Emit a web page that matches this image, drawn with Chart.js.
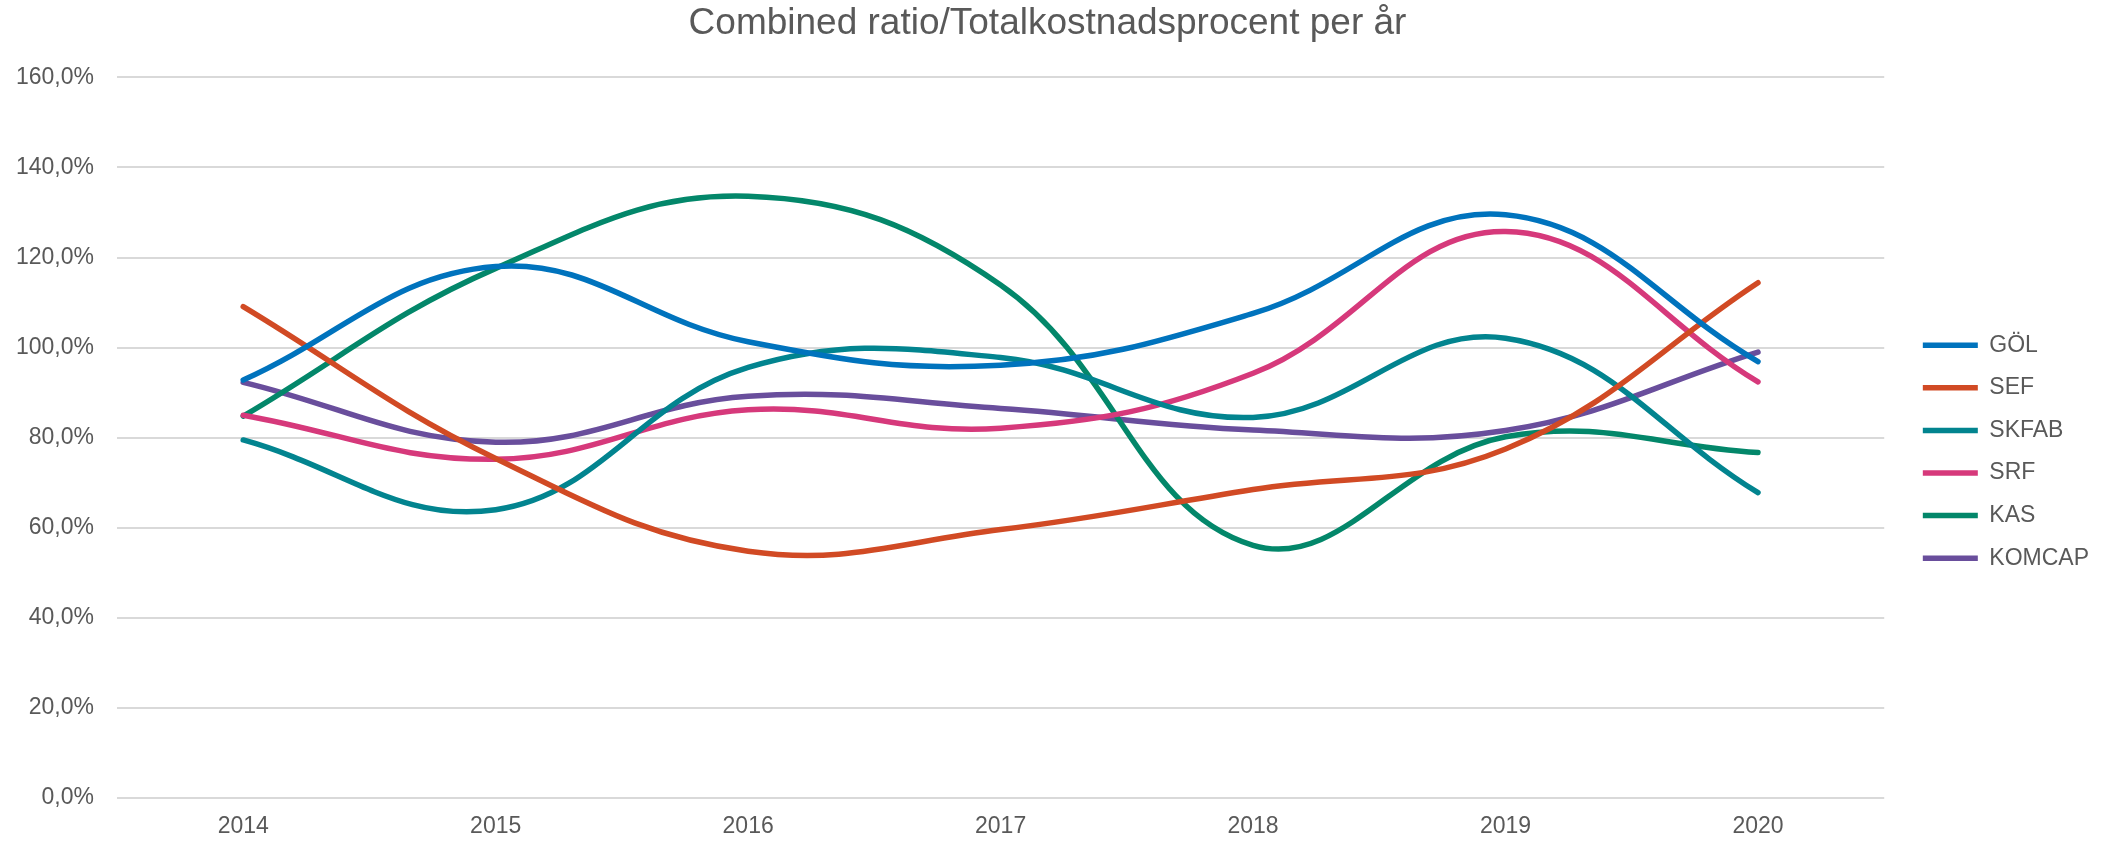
<!DOCTYPE html>
<html>
<head>
<meta charset="utf-8">
<title>Combined ratio</title>
<script src="https://cdn.jsdelivr.net/npm/chart.js@4"></script>
<style>
  html, body { margin: 0; padding: 0; background: #fff; }
  #wrap { width: 2104px; height: 842px; position: relative; }
</style>
</head>
<body>
<div id="wrap"><canvas id="chart"></canvas></div>
<script>
// ── Data ──
const years = ["2014", "2015", "2016", "2017", "2018", "2019", "2020"];

const gol = [92.8, 118.0, 101.3, 96.1, 107.6, 129.5, 96.9];
const sef = [109.1, 75.4, 54.8, 59.6, 68.5, 77.5, 114.4];
const skfab = [79.5, 64.0, 95.6, 97.8, 84.5, 102.1, 67.8];
const srf = [85.0, 75.2, 86.2, 82.1, 94.3, 125.8, 92.4];
const kas = [84.8, 117.6, 133.6, 113.9, 56.1, 80.2, 76.7];
const komcap = [92.3, 79.0, 89.2, 86.5, 81.7, 81.6, 99.0];

const yTicks = [0, 20, 40, 60, 80, 100, 120, 140, 160];

const textColor = "#595959";
const fontFamily = "'Liberation Sans', Arial, sans-serif";

function series(label, data, color) {
  return {
    label: label,
    data: data,
    borderColor: color,
    backgroundColor: color,
    borderWidth: 5.5,
    borderCapStyle: "round",
    borderJoinStyle: "round",
    tension: 0.4,
    pointRadius: 0,
    pointHoverRadius: 0,
    fill: false,
  };
}

// nudge the legend a bit right and down, like the original
const legendShift = {
  id: "legendShift",
  afterLayout(chart) {
    chart.legend.left += 19;
    chart.legend.right += 19;
    chart.legend.top += 14;
    chart.legend.bottom += 14;
  },
};

const ctx = document.getElementById("chart").getContext("2d");

new Chart(ctx, {
  type: "line",
  data: {
    labels: years,
    datasets: [
      series("GÖL", gol, "#0073BD"),
      series("SEF", sef, "#D14A24"),
      series("SKFAB", skfab, "#02848F"),
      series("SRF", srf, "#D6397B"),
      series("KAS", kas, "#03876A"),
      series("KOMCAP", komcap, "#694E9C"),
    ],
  },
  options: {
    responsive: true,
    maintainAspectRatio: false,
    devicePixelRatio: 1,
    animation: false,
    layout: {
      padding: { left: 15, right: 24, top: 0, bottom: 1 },
    },
    plugins: {
      title: {
        display: true,
        text: "Combined ratio/Totalkostnadsprocent per år",
        color: textColor,
        font: { family: fontFamily, size: 37, weight: "normal" },
        padding: { top: 2, bottom: 31 },
      },
      legend: {
        position: "right",
        fullSize: false,
        labels: {
          color: textColor,
          font: { family: fontFamily, size: 23 },
          usePointStyle: true,
          pointStyle: "line",
          pointStyleWidth: 55,
          padding: 19.6,
        },
      },
      tooltip: { enabled: false },
    },
    scales: {
      x: {
        offset: true,
        grid: { display: false, drawTicks: false },
        border: { display: false },
        ticks: {
          color: textColor,
          font: { family: fontFamily, size: 23 },
          padding: 15,
          maxRotation: 0,
        },
        afterFit: (axis) => {
          axis.height = 43;
        },
      },
      y: {
        min: 0,
        max: 160,
        afterBuildTicks: (axis) => {
          axis.ticks = yTicks.map((v) => ({ value: v }));
        },
        grid: { color: "#D9D9D9", lineWidth: 2, drawTicks: false },
        border: { display: false },
        ticks: {
          color: textColor,
          font: { family: fontFamily, size: 23 },
          padding: 23,
          callback: (val) => val.toFixed(1).replace(".", ",") + "%",
        },
        afterFit: (axis) => {
          axis.width = 102;
        },
      },
    },
  },
  plugins: [legendShift],
});
</script>
</body>
</html>
